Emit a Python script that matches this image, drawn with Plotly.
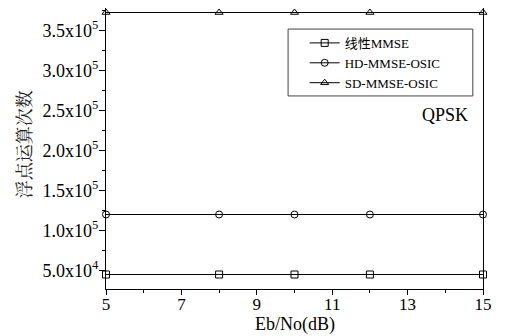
import plotly.graph_objects as go

snr = [5, 8, 10, 12, 15]
linear_mmse = [45000, 45000, 45000, 45000, 45000]
hd_mmse_osic = [120000, 120000, 120000, 120000, 120000]
sd_mmse_osic = [372500, 372500, 372500, 372500, 372500]

series_names = ["线性MMSE", "HD-MMSE-OSIC", "SD-MMSE-OSIC"]
symbols = ["square-open", "circle-open", "triangle-up-open"]

y_tickvals = [50000, 100000, 150000, 200000, 250000, 300000, 350000]
y_ticktext = ["5.0x10<sup>4</sup>", "1.0x10<sup>5</sup>", "1.5x10<sup>5</sup>",
              "2.0x10<sup>5</sup>", "2.5x10<sup>5</sup>", "3.0x10<sup>5</sup>",
              "3.5x10<sup>5</sup>"]
y_minor = [75000, 125000, 175000, 225000, 275000, 325000, 375000]
x_tickvals = [5, 7, 9, 11, 13, 15]

fig = go.Figure()
for name, ys, sym in zip(series_names, [linear_mmse, hd_mmse_osic, sd_mmse_osic], symbols):
    fig.add_trace(go.Scatter(
        x=snr, y=ys, name=name, mode="lines+markers",
        line=dict(color="black", width=1),
        marker=dict(symbol=sym, size=7, color="black", line=dict(width=1, color="black")),
        cliponaxis=False,
    ))

serif = "Liberation Serif, Times New Roman, serif"
# page body has an 8px margin: figure is 497x328 placed at (8, 8)
fig.update_layout(
    width=497, height=328,
    margin=dict(l=98, r=22, t=0, b=47, autoexpand=False),
    paper_bgcolor="white", plot_bgcolor="white",
    font=dict(family=serif, size=15, color="black"),
    showlegend=True,
    legend=dict(
        x=0.527, y=0.929, xanchor="left", yanchor="top",
        borderwidth=0, bgcolor="rgba(0,0,0,0)",
        font=dict(family=serif + ", Noto Sans CJK SC", size=13),
        tracegroupgap=0, itemwidth=30,
    ),
    xaxis=dict(
        range=[5, 15], tickvals=x_tickvals, showline=True, linecolor="black", linewidth=1,
        mirror=True, ticks="outside", ticklen=5, tickcolor="black", showgrid=False, zeroline=False,
        minor=dict(ticks="outside", ticklen=3, dtick=1, tickcolor="black"),
        tickfont=dict(family=serif, size=17), ticklabelstandoff=-5,
    ),
    yaxis=dict(
        range=[26875, 378125], tickvals=y_tickvals, ticktext=y_ticktext, showline=True,
        linecolor="black", linewidth=1, mirror=True, ticks="outside", ticklen=6, tickcolor="black",
        showgrid=False, zeroline=False,
        minor=dict(ticks="outside", ticklen=3, tickvals=y_minor, tickcolor="black"),
        tickfont=dict(family=serif, size=18), ticklabelstandoff=-3,
    ),
    shapes=[dict(type="rect", xref="paper", yref="paper",
                 x0=0.483, x1=0.973, y0=0.687, y1=0.925,
                 line=dict(color="#444444", width=1), fillcolor="rgba(0,0,0,0)")],
    annotations=[
        dict(text="QPSK", x=0.9655, y=0.619, xref="paper", yref="paper",
             xanchor="right", yanchor="middle", showarrow=False,
             font=dict(family=serif, size=18)),
        dict(text="Eb/No(dB)", x=0.5, y=-0.128, xref="paper", yref="paper",
             xanchor="center", yanchor="middle", showarrow=False,
             font=dict(family=serif, size=18)),
        dict(text="浮点运算次数", x=-0.22, y=0.515, xref="paper", yref="paper",
             xanchor="center", yanchor="middle", showarrow=False, textangle=-90,
             font=dict(family="Noto Serif CJK SC, Noto Sans CJK SC", size=18, color="#222222")),
    ],
)

fig.write_html("out.html")
